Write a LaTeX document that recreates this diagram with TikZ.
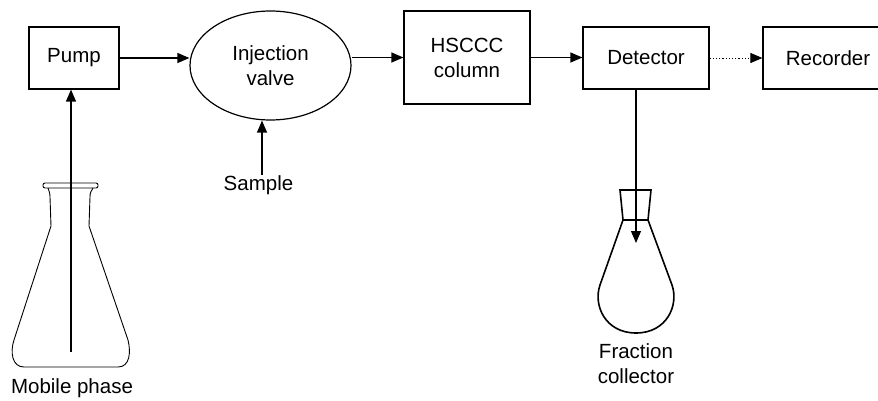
\documentclass[tikz,border=0pt]{standalone}
\usepackage{fontspec}
\setmainfont{Liberation Sans}
\usetikzlibrary{positioning,arrows.meta,shapes.geometric}

\begin{document}
\begin{tikzpicture}[x=1pt, y=-1pt, font=\fontsize{20.5}{25}\selectfont, box/.style={draw, line width=1.2pt, align=center, inner sep=0pt, minimum width=90pt, minimum height=62pt}, valvebox/.style={draw, ellipse, line width=1.2pt, align=center, inner sep=0pt, minimum width=161pt, minimum height=109pt}, arrow/.style={-{Triangle[length=12pt,width=10pt]}, line width=1.2pt}, label/.style={align=center, inner sep=0pt}]
\useasboundingbox (0,0) rectangle (878,401);
\node[box](pump) at (74,58){Pump};
\node[valvebox](valve) at (270.5,65.5){Injection\\valve};
\node[box, minimum width=126pt, minimum height=93pt](column) at (467,57.5){HSCCC\\column};
\node[box, minimum width=126pt](detector) at (646,58){Detector};
\node[box, minimum width=130pt](recorder) at (828,58){Recorder};
\node[label](sample) at (258.5,185){Sample};
\node[label](mobile) at (72,388){Mobile phase};
\node[label](collector) at (636,364){Fraction\\collector};
\coordinate (feed) at (71,352);
\coordinate (drop) at (636,243);
% solvent flask
\draw[line width=0.9pt, rounded corners=2pt] (43,183) rectangle (98,188);
\draw[line width=0.9pt] (48,188) .. controls (49,191) and (50,193) .. (50,197) -- (51,226) -- (14,340) .. controls (10,352) and (12,367) .. (24,367) -- (118,367) .. controls (130,367) and (131,352) .. (128,340) -- (89,226) -- (90,197) .. controls (90,193) and (91,191) .. (93,188);
% collecting flask
\draw[line width=1.6pt] (620,190) -- (651,190) -- (648,220) -- (623,220) -- cycle;
\draw[line width=1.6pt] (623,220) -- (600,285) .. controls (593,305) and (605,333) .. (636,333) .. controls (667,333) and (679,305) .. (672,285) -- (648,220);
% flow lines
\draw[arrow] (pump) -- (pump -| valve.west);
\draw[arrow] (column.west -| valve.east) -- (column.west);
\draw[arrow] (column.east) -- (column.east -| detector.west);
\draw[arrow, dotted, line width=0.9pt] (detector) -- (recorder);
\draw[arrow] ([xshift=3.5pt]sample.north) -- ([xshift=3.5pt]sample.north |- valve.south);
\draw[arrow] (feed) -- (feed |- pump.south);
\draw[arrow] (drop |- detector.south) -- (drop);
\end{tikzpicture}
\end{document}
